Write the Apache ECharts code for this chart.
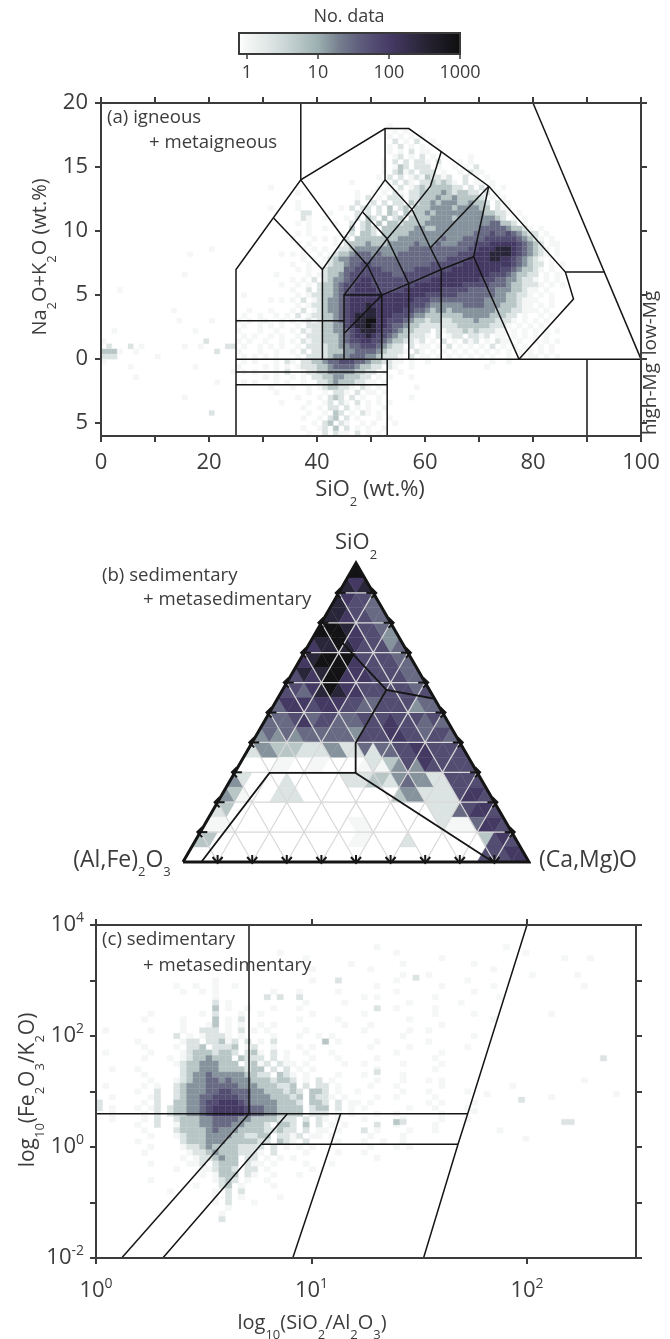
<!DOCTYPE html>
<html><head><meta charset="utf-8">
<style>html,body{margin:0;padding:0;background:#fff}#c{width:670px;height:1339px}</style>
<script src="https://cdn.jsdelivr.net/npm/echarts@6/dist/echarts.min.js"></script>
</head><body><div id="c"></div>
<script>
// ---------- colour scale ----------
const binCounts = [0,1,2.2,5.5,15,30,60,110,280,800];
const scaleLog = [0,0.3,0.6,1,1.3,1.6,2,2.5,3];
const scaleColors = ['#f5f7f6','#e0e7e6','#c6d2d2','#9db0b1','#767f8f','#5e5c7c','#463b66','#272334','#0e0e0e'];
const colorbarTicks = [0,1,2,3];
const colorbarLabels = {0:'1',1:'10',2:'100',3:'1000'};

// ---------- panel (a): 1 wt.% columns, 5 columns per group, starting SiO2 = 25 ----------
const igneousFirstSiO2 = 25;
const igneousTotalAlkali = [18.2,17.8,17.4,17.0,16.6,16.2,15.8,15.4,15.0,14.6,14.2,13.8,13.4,13.0,12.6,12.2,11.8,11.4,11.0,10.6,10.2,9.8,9.4,9.0,8.6,8.2,7.8,7.4,7.0,6.6,6.2,5.8,5.4,5.0,4.6,4.2,3.8,3.4,3.0,2.6,2.2,1.8,1.4,1.0,0.6,0.2,-0.2,-0.6,-1.0,-1.4,-1.8,-2.2,-2.6,-3.0,-3.4,-3.8,-4.2,-4.6,-5.0,-5.4,-5.8];
const igneousRows = [
"..... ..... ..... ..... ..... ...1.",
"..... ..... ..... ..... ..... ....1 .1...",
"..... ..... ..... ..... ..... ...1. 1.1.1",
"..... ..... ..... ..... ..... ....2 .1.2. .1",
"..... ..... ..... ..... ..... ...1. 2.1.1 ..1..",
"..... ..... ..... ..... ..... ...1. 1.2.1 1....",
"..... ..... ..... ..... ..... ....1 2.1.2 .1... ...1",
"..... ..... ..... ..... ..... ..1.2 .2.22 1.2.. .1.1.",
"..... ..... ..... ..... ..... ..1.1 32.22 2.1.. 1.1.2",
"..... ..... ..... ..... ..... ..1.2 312.2 22.1. .1.21 1",
"..... ..... ..... ..... ..... .1.2. 2.121 32212 ..2.1 .1",
"..... ..... ..... ..... .1... ..1.2 .21.2 23232 1.2.1 1.1",
"..... .1... ..... ..... ..... .1.1. 2.123 23333 22.2. 2.1.1",
"..... ..... .1... ..... ..1.. 1.1.2 1.223 33343 23322 .2.1.",
"..... ..... ..... ..... ..1.2 .1.22 2.223 33433 43333 2.1.1",
"..... ..... .1... ..... ..2.1 2.2.2 2.323 34344 43343 32.21 1",
"..... .1... .1... ....1 .2.22 .2.3. 23.33 34444 34444 33.21 1",
"..... ..... ..22. ..1.. ..2.2 .2.32 .3233 43444 44444 43322 1.1",
"..... ..... ..21. .1... 1.2.3 2.3.2 3.333 34444 34444 44432 .1.1",
"..... ..... .1.1. ...1. .2.23 .3.33 23333 44444 44444 44553 32.1.",
"..... ..... ...1. .1... .3.23 2.333 33344 33444 44444 55555 43321 .1",
"..... ..... .1.1. ....1 .2.33 2.333 33444 44444 44445 55655 65432 2.1",
"..... ..... 1...1 .1.1. 2.333 33333 44444 44454 44555 56666 66543 21.1",
"..... ..... .1.1. ...1. 23334 33344 44454 44544 45556 66777 77654 32.11",
"..... ..... ..1.1 .1..2 23444 44444 44555 55555 55566 77788 87654 321.1",
"..... ...1. 1.1.. 1.123 34555 45444 55555 55555 56667 77888 87654 321.1",
"..... ..... ..1.1 .1234 45555 55555 55555 55556 66677 77887 76543 21.1.",
"..... ..... 1..1. 1.233 45566 55555 55555 56666 66777 77777 76543 22.1 .1",
"..... ..... .1.1. .2333 55666 66555 55566 66666 77777 77776 65433 21.1.",
"..... ..1.. ...1. 12334 56666 66665 56666 66677 77777 77666 54332 2.1.1",
"..... ..... 1.1.2 .2344 56677 66666 66666 67777 77777 66655 44322 1.1.1",
"..... ...1. .1.1. 23345 66777 66666 66677 77777 77666 66555 43322 21.1 .1",
"..... ..... 1..2. 23345 66777 76666 67777 77766 66655 55544 43321 1.1.",
".1... ..... .1.12 23345 67777 77777 77777 66666 65555 55544 33221 .1.1",
"..... .1.1. 1.2.1 23445 67777 77777 77766 65555 55555 54444 33211 1..1.",
"..... ..... .1.12 23445 67778 77777 77666 54444 44555 54443 33211 .1.1",
"..1.. .1... 1.2.1 23445 67778 87777 76655 43443 44444 44433 32211 1.1.",
".1..1 ..1.1 .2.12 23345 67888 87776 66544 33333 33444 44333 22.1. .1.1",
"1.1.1 1..1. 1.121 23345 67889 97766 65433 23322 33334 33322 21.1. 1.1.",
".1..1 .1.1. .1.22 23344 67889 87765 54332 22222 23333 33222 1.1.1 .1.",
"1...1 ..1.. 1.212 23344 56788 87665 43322 2.212 22323 22211 .1.1. 1.1.1",
".1.1. .1.1. .1.22 23334 56778 76654 33222 1.2.1 22.22 12.11 .1.1. 1.1",
"1.1.. 1..1. 1.212 23334 56677 66543 32212 .1.2. 1.212 .1.21 1.1.. 1.1.1",
".1..1 .1.1. .1.22 22334 45566 65432 2.2.1 1.1.2 .1.1. 1.2.1 .1.1. .1.1",
"1...1 ..1.. 1.2.2 22333 44555 54322 21.21 .1.1. 1.1.1 .1.1. 1.1.1 .1.1",
".1.1. 1.1.. .1.22 22344 45554 43222 1.2.1 1.1.1 .1.1. 1.1.. 1.1.1 1.1.1",
".1.1. ..1.2 1.223 34556 66554 33221 1.1.. 1.... ..... ..1.. 1....",
"1.... 1.1.1 .1222 33455 55433 22.21 ..1.. ..... ..... .1",
".1.1. ..1.2 ..122 33444 44332 2.1.. 1.... ..... .....",
"..... 1.1.. 1.1.2 23344 33322 .1.1. ..1.. ...",
".1.1. ..1.1 ..1.. 22343 33221 1.1.. .....",
"..... .1... 1..1. 12332 21.21 .1... ...1.",
"..... ..1.. ...1. .1.22 1.2.1 1.1.. .....",
"..... ..... .1... 1.232 .2.1. .1... ..1..",
"..... ...1. ...1. .12.2 1.2.1 .1.1.",
"..... ..... ..1.. 1.22. 2.1.1 ..1.. ...",
"..... ..... ...1. .1.32 .1.21 .1...",
"..... ..... ..1.. 1.23. 2.1.. .1.1.",
"..... ..... ....1 .23.2 1..1. 1...1",
"..... ..... ..1.. 12.3. 2.1.1 ..1..",
"..... ..... ...1. .2.21 1.2.1 .1.."
];
const igneousLowSiO2Cells = [[0,0.6,3],[1,0.6,3],[2,0.6,3],[1,1.0,2],[0,0.2,2],[2,0.2,2],[1,0.2,2],[3,0.6,1],[5,1.0,2],[6,0.6,1],[7,1.0,1],[0,-0.2,1],[5,-0.6,1],[0,1.4,1],[6,-1.4,1],[3,5.4,1],[2,2.2,1],[10,0.2,1],[14,3.0,1],[19,1.4,2],[21,0.6,2],[18,1.0,1],[23,1.0,2],[24,1.0,2],[17,2.2,1],[20,3.0,1],[15,1.0,1],[13,3.8,1],[15,6.6,1],[20,8.6,1],[16,8.2,1],[24,-1.0,1],[21,-1.8,1],[20,-4.2,2],[15,-3.0,1],[17,-0.6,1]];

const tasOutline = [[25,-6],[25,7],[37,14],[52.6,18],[57,18],[63,16.2],[71.8,13.5],[86,6.8],[87.5,4.7],[77.4,0]];
const tasLines = [
 [[25,3],[45,3]],
 [[41,0],[41,7],[45,9.4],[48.4,11.5],[52.6,14],[52.6,18]],
 [[32,11],[41,7]],
 [[37,14],[45,9.4],[49.4,7.3],[52,5],[52,0]],
 [[45,0],[45,5],[52,5]],
 [[45,2],[52,5]],
 [[45,5],[53,9.4],[57.6,11.7],[61,13.5],[63,16.2]],
 [[48.4,11.5],[53,9.4],[57,5.9],[57,0]],
 [[52.6,14],[57.6,11.7],[61,8.7],[63,7],[63,0]],
 [[61,8.7],[71.8,13.5]],
 [[52,5],[57,5.9],[63,7],[69,8],[77.4,0]],
 [[69,8],[71.8,13.5]],
 [[86,6.8],[93.2,6.8]],
 [[80,20],[100,0]],
 [[25,0],[100,0]],
 [[25,-1],[53,-1]],
 [[25,-2],[53,-2]],
 [[53,0],[53,-6]],
 [[90,0],[90,-6]],
 [[37,14],[37,20]]
];
const igneousXTicks = [0,10,20,30,40,50,60,70,80,90,100];
const igneousXLabels = [0,20,40,60,80,100];
const igneousYTicks = [-5,0,5,10,15,20];

// ---------- panel (b): ternary triangles, row 0 at the SiO2 apex ----------
const ternaryRows = [
"9","878","87665","8876655","999876654","78898766645","7899997666655",
"687899777666655","66578987766666656","5777677766556666455","555675665556667666565",
"45454555555466677665665",
"2443332224422525566776666",
"....11..11....1213464766666",
"42....2......2223324544226666",
"431...222...........34422226776",
"23.......................22256776",
"111..............11........21115776",
"33................11....2........3676",
"..................................66677"
];
const ternaryGridValues = [10,20,30,40,50,60,70,80,90];
const ternaryOutline = [[0,0],[50,100],[100,0],[0,0]];
const ternaryFields = [
 [[40.25,80.5],[58.8,57.6],[49.9,39.8],[49.9,29.8],[25,29.8],[5.3,0]],
 [[58.8,57.6],[72.7,54.6]],
 [[49.9,29.8],[89.6,0]]
];

// ---------- panel (c): log10 columns of 0.03, 5 columns per group, starting at 0 ----------
const sedColumnWidth = 0.03;
const sedRowHeight = 0.1;
const sedYCentres = [3.6,3.5,3.4,3.3,3.2,3.1,3.0,2.9,2.8,2.7,2.6,2.5,2.4,2.3,2.2,2.1,2.0,1.9,1.8,1.7,1.6,1.5,1.4,1.3,1.2,1.1,1.0,0.9,0.8,0.7,0.6,0.5,0.4,0.3,0.2,0.1,0.0,-0.1,-0.2,-0.3,-0.4,-0.5,-0.6,-0.7,-0.8,-0.9,-1.0,-1.1,-1.2,-1.3];
const sedRows = [
"..... ..... ..... ..... ..... ..... ..... ..... ...1. ..... ..... ..... ...1.",
"..... ..... ..... ..... ..... ...1. ..... ..... ..... .1... ..... ..... ..... .1...",
"..... ..... ..... ..... ..... ..... ..1.. ..... ..... ..... ...1. ..... ..... ..... ..1..",
"..... ..... ..... ..... ...1. ..... ..... ....1 ..... ..1.. ..... ...1. ..... .....",
"..... ..... ..... ..... ..... ..... ...1. ..... ..1.. ..... ..... ..... .1...",
"..... ..... ..... ..... ..... ..... ..... ..... ..... ..1.. .1... ..... ..... ..1.. ....1",
"..... ..... ..... ...1. ..... ..... ...1. ..2.. ..... .1... ..... ..1..",
"..... ..... ..1.. 1..1. .1... ..... ..... ..... ...1. ..... ...1. ..... .1...",
"..... ..... ...1. .1.1. ..... ..1.. .1... ..1.. ..... .1... ..... ...1.",
"..... ..... ..... ...1. ..... .2.2. .2... ..... .1.1. ..... ..1.. ..... ..1..",
"..... ..... ..... ...2. 1.... ..... ..1.. ...1. ..... ...1. ..... .1...",
"..... ..... ..... ...3. 1..1. ..1.. .1... ..... ...2. .1... ..1.. .....",
"..... ...1. ..... .1.2. ..1.. 1.... ...1. ..... .1... ..... ..1.. ...1.",
"..... ..1.. ...1. ...3. 1.2.. ..... .1... ..1.. ..... ...1. ..... ..... .1...",
"..... ..... ...1. ..13. 1.1.. 1.1.. ..... ...1. ..1.. ..... ...1.",
".1... ...1. ...1. .222. 1.2.1 .1... ..1.. ..... .1... ...1. .1...",
"..... ..... ..2.1 .1222 1.1.. ..1.. .1..1 .1... ..... ..1.. ..... ...1.",
"..... .1... ...12 2.223 12.2. 1.2.. ..... 3.1.. ...1. ..... .1...",
"..... ..1.. ..1.2 23.22 23.12 ..1.. .1.1. ..... ..1.. ...1. ..... ..1..",
".1... ...1. ...12 33323 32.23 1.2.1 ..1.. .1... ..... .1... ...1.",
"..... ..1.. .1.12 33433 3.322 2.2.1 ...1. ..1.. ...1. ..... ..1..",
"..... ..... ..123 34443 33.23 12.21 1.1.. ...1. .1... ..1.. ...1.",
"..1.. .1... ...23 34443 33323 3.2.2 .1.1. ..... ...1. ..... ..1..",
"..... ..1.. ...23 44544 44433 22.32 1.1.. ..1.. .1... ..1.. .....",
"..... ...1. ..123 44554 54443 33233 2.1.2 .1... ...1. ..1.. .1.1.",
".1... ..1.1 ..234 44555 55444 33322 3.2.2 2.1.. ..1.. .1... ...1.",
"..... .1..2 ..234 44556 65554 43332 32.33 2.1.. 1.... ..1.. .1... ..1..",
"..1.. ...12 ..234 45566 66554 44333 23.32 21.1. ...1. .1... ..1..",
"2.... ..1.2 ..334 45667 77654 44433 32.33 2.2.1 1.1.. ..... .1.1. ...1.",
"2.1.. .1.12 .2334 45677 77765 54433 33.23 3.2.1 .1... ...1. ..1.. ..1..",
"..1.. ..1.2 .2334 45677 77765 54433 33.22 2.1.1 ...1. .1... ...1.",
"..1.. ..1.2 ..233 34455 55443 33322 2.2.2 1.1.. .1... ..1.. ...1. ..1..",
"..... .1..2 ..133 34455 54433 32.33 2.3.2 .1.1. ...2. .1... ..1..",
"..... ..1.. ..233 33454 44333 32232 2.2.1 1.1.. .2.1. ...1. ..1..",
"..... ...1. ..123 33444 43322 33.22 12.11 .1... ..1.. ..1.. .....",
"..... .1... ...23 33444 33333 22.32 1.2.. ..1.. .1..1 ..1..",
"..... ...1. ...12 23433 33222 2.2.1 .1.1. ..... ..1.. .1.1.",
"..... ..1.. ....1 22343 33222 1.2.. ..1.. ..1.. .1...",
"..... ..... ...1. 12234 33.22 .1.1. 1.... ..... ...1.",
"..... ...1. ....1 12.23 33.21 1.1.. ..1.. .1...",
"..... ..... ..1.. .1123 32.22 .1... ...1. .....",
"..... ..... ..... .1.13 33.21 ..1.. .1...",
"..... ...1. ..... ...12 32.1. .1... .....",
"..... ..... ..... 1...2 3.1.. ..1..",
"..... ..... .1... ...1. 2.2.. .....",
"..... ..... ..... ...1. 2.1.. ...1.",
"..... ..... ..... ...1. 2...1",
"..... ..... ..... ..... 1....",
"..... ..... ..... ....1",
"..... ..... ..... ....2"
];
const sedSparseCells = [[2.16,0.45,2],[2.19,0.45,2],[2.34,1.6,2],[1.96,0.85,2],[1.38,0.45,3],[1.41,0.45,2],[1.29,1.35,2],[1.47,3.05,2],[1.8,0.95,1],[1.92,1.1,1],[2.1,0.9,1],[2.25,1.2,1],[1.74,0.65,1],[2.4,0.95,1],[2.28,3.4,1],[2.1,2.4,1],[2.25,2.9,1],[1.86,0.3,1],[1.98,0.15,1]];
const sedLines = [
 [[0.71,4],[0.71,0.6]],
 [[0,0.6],[1.725,0.6]],
 [[0.767,0.05],[1.68,0.05]],
 [[0.71,0.6],[0.119,-2]],
 [[0.888,0.6],[0.767,0.05],[0.31,-2]],
 [[1.135,0.6],[1.09,0.05],[0.913,-2]],
 [[2,4],[1.725,0.6],[1.68,0.05],[1.52,-2]]
];
const sedXTicks = [0,1,2];
const sedYTicks = [-2,-1,0,1,2,3,4];
const sedYLabelled = [-2,0,2,4];

// ---------- helpers ----------
const lv = binCounts;
function hex2(c){return [parseInt(c.slice(1,3),16),parseInt(c.slice(3,5),16),parseInt(c.slice(5,7),16)];}
function colorOfCount(n){
  const l=Math.log10(n);
  if(l<=scaleLog[0])return scaleColors[0];
  for(let i=1;i<scaleLog.length;i++){
    if(l<=scaleLog[i]){
      const t=(l-scaleLog[i-1])/(scaleLog[i]-scaleLog[i-1]),a=hex2(scaleColors[i-1]),b=hex2(scaleColors[i]);
      return 'rgb('+a.map((v,k)=>Math.round(v+(b[k]-v)*t)).join(',')+')';
    }
  }
  return scaleColors[scaleColors.length-1];
}
const cbMin=-0.11,cbMax=3;
function cellsFromRows(rows,ys,x0,dx){
  const out=[];
  rows.forEach((r,ri)=>{
    r.replace(/ /g,'').split('').forEach((ch,ci)=>{
      if(ch!=='.'&&ch!=='0')out.push([x0+ci*dx,ys[ri],+ch]);
    });
  });
  return out;
}
function heatSeries(data,xi,yi,dx,dy){
  return {type:'custom',xAxisIndex:xi,yAxisIndex:yi,z:1,silent:true,animation:false,data,
    encode:{x:0,y:1},clip:true,
    renderItem(p,api){
      const x=api.value(0),y=api.value(1),a=api.coord([x,y+dy/2]),b=api.coord([x+dx,y-dy/2]);
      const f=colorOfCount(lv[api.value(2)]);
      return {type:'rect',shape:{x:a[0],y:a[1],width:b[0]-a[0],height:b[1]-a[1]},style:{fill:f,stroke:f,lineWidth:0.3}};
    }};
}
function lineSeries(pts,xi,yi,w,col){
  return {type:'line',xAxisIndex:xi,yAxisIndex:yi,data:pts,showSymbol:false,silent:true,animation:false,z:4,
    lineStyle:{color:col||'#151515',width:w||1.5,join:'miter'},clip:false};
}

// ternary triangles
const triData=[];
ternaryRows.forEach((s,r)=>{s.split('').forEach((ch,i)=>{if(ch!=='.')triData.push([r,i,+ch]);});});
const ternaryTriangles={type:'custom',xAxisIndex:2,yAxisIndex:2,z:1,silent:true,animation:false,data:triData,encode:{x:1,y:0},
  renderItem(p,api){
    const r=api.value(0),i=api.value(1),k=Math.floor(i/2),top=100-5*r,bot=95-5*r;
    let v;
    if(i%2===0){const xl=50-2.5*(r+1)+5*k;v=[[xl,bot],[xl+5,bot],[xl+2.5,top]];}
    else{const xl=50-2.5*r+5*k;v=[[xl,top],[xl+5,top],[xl+2.5,bot]];}
    const f=colorOfCount(lv[api.value(2)]);
    return {type:'polygon',shape:{points:v.map(q=>api.coord(q))},style:{fill:f,stroke:f,lineWidth:0.4}};
  }};
const ternaryGrid=[];
ternaryGridValues.forEach(t=>{
  ternaryGrid.push([[t/2,t],[100-t/2,t]]);
  ternaryGrid.push([[t,0],[50+t/2,100-t]]);
  ternaryGrid.push([[t,0],[t/2,t]]);
});
const ternaryTicks=[];
ternaryGridValues.forEach(t=>{
  ternaryTicks.push([t/2,t,0]);
  ternaryTicks.push([100-t/2,t,1]);
  ternaryTicks.push([t,0,2]);
});
const ternaryTickSeries={type:'custom',xAxisIndex:2,yAxisIndex:2,z:6,silent:true,animation:false,data:ternaryTicks,encode:{x:0,y:1},
  renderItem(p,api){
    const c=api.coord([api.value(0),api.value(1)]),k=api.value(2),s={stroke:'#151515',lineWidth:2,fill:null};
    let st,h;
    if(k===0){st=[[c[0]-3,c[1]],[c[0]+7,c[1]]];h=[[c[0]+2,c[1]-5],[c[0]-3,c[1]],[c[0]+2,c[1]+5]];}
    else if(k===1){st=[[c[0]+3,c[1]],[c[0]-7,c[1]]];h=[[c[0]-2,c[1]-5],[c[0]+3,c[1]],[c[0]-2,c[1]+5]];}
    else{st=[[c[0],c[1]+1],[c[0],c[1]-7]];h=[[c[0]-5,c[1]-5],[c[0],c[1]+1],[c[0]+5,c[1]-5]];}
    return {type:'group',children:[{type:'polyline',shape:{points:st},style:s},{type:'polyline',shape:{points:h},style:s}]};
  }};

// colour bar
const cbStops=scaleLog.map((l,i)=>({offset:(l-cbMin)/(cbMax-cbMin),color:scaleColors[i]}));
cbStops.unshift({offset:0,color:'#ffffff'});
const colorbarSeries={type:'custom',xAxisIndex:5,yAxisIndex:5,z:2,silent:true,animation:false,data:[[cbMin,0,cbMax,1]],encode:{x:[0,2],y:[1,3]},
  renderItem(p,api){
    const a=api.coord([api.value(0),api.value(3)]),b=api.coord([api.value(2),api.value(1)]);
    return {type:'rect',shape:{x:a[0],y:a[1],width:b[0]-a[0],height:b[1]-a[1]},
      style:{fill:new echarts.graphic.LinearGradient(0,0,1,0,cbStops),stroke:'#3a3a3a',lineWidth:2}};
  }};

const INK='#3c3c3c',FONT='"Open Sans",sans-serif',TICK=22;
const axBase={axisLine:{show:true,onZero:false,lineStyle:{color:INK,width:2}},axisTick:{show:true,length:6,lineStyle:{color:INK,width:2}},splitLine:{show:false},z:5};
function axisX(grid,min,max,pos,ticks,labels,extra){
  return Object.assign({},axBase,{type:'value',gridIndex:grid,position:pos,min,max,
    axisTick:Object.assign({},axBase.axisTick,{customValues:ticks}),
    axisLabel:labels?Object.assign({show:true,customValues:labels,color:INK,fontFamily:FONT,fontSize:TICK,margin:16,hideOverlap:false},extra||{}):{show:false}});
}
function axisY(grid,min,max,pos,ticks,labels,extra){
  return Object.assign({},axBase,{type:'value',gridIndex:grid,position:pos,min,max,
    axisTick:Object.assign({},axBase.axisTick,{customValues:ticks}),
    axisLabel:labels?Object.assign({show:true,customValues:labels,color:INK,fontFamily:FONT,fontSize:TICK,margin:13,hideOverlap:false},extra||{}):{show:false}});
}
const powRich={b:{fontFamily:FONT,fontSize:TICK,color:INK,lineHeight:26},s:{fontFamily:FONT,fontSize:14,color:INK,verticalAlign:'top',lineHeight:28}};
const powFmt=v=>'{b|10}{s|'+v+'}';
const hidden=(g,min,max)=>({type:'value',gridIndex:g,min,max,show:false,splitLine:{show:false}});

function T(x,y,text,o){
  o=o||{};
  const size=o.size||22;
  return {type:'text',x,y,z:20,rotation:o.rot||0,silent:true,style:{
    text,fill:INK,font:size+'px '+FONT,fontFamily:FONT,fontSize:size,
    align:o.align||'center',verticalAlign:'middle',textAlign:o.align||'center',textVerticalAlign:'middle',
    rich:{m:{fontFamily:FONT,fontSize:size,fill:INK,color:INK,lineHeight:26},
      d:{fontFamily:FONT,fontSize:13,fill:INK,color:INK,verticalAlign:'bottom',lineHeight:37}}
  }};
}

const series=[
  heatSeries(cellsFromRows(igneousRows,igneousTotalAlkali,igneousFirstSiO2,1),0,0,1,0.4),
  heatSeries(igneousLowSiO2Cells,0,0,1,0.4),
  lineSeries(tasOutline,0,0),
  ...tasLines.map(l=>lineSeries(l,0,0)),
  ternaryTriangles,
  ...ternaryGrid.map(l=>Object.assign(lineSeries(l,2,2,1.2,'#d8d8d8'),{z:2})),
  ...ternaryFields.map(l=>lineSeries(l,2,2,1.8)),
  lineSeries(ternaryOutline,2,2,3,'#151515'),
  ternaryTickSeries,
  heatSeries(cellsFromRows(sedRows,sedYCentres,0,sedColumnWidth),3,3,sedColumnWidth,sedRowHeight),
  heatSeries(sedSparseCells,3,3,sedColumnWidth,sedRowHeight),
  ...sedLines.map(l=>lineSeries(l,3,3)),
  colorbarSeries
];

const chart=echarts.init(document.getElementById('c'),null,{renderer:'canvas'});
chart.setOption({
  animation:false,backgroundColor:'#fff',
  grid:[
    {left:101,top:103,width:540,height:333},
    {left:183,top:563,width:346,height:299},
    {left:96,top:925,width:540,height:333},
    {left:239,top:33,width:221,height:21}
  ].map(g=>Object.assign(g,{containLabel:false})),
  xAxis:[
    axisX(0,0,100,'bottom',igneousXTicks,igneousXLabels),
    axisX(0,0,100,'top',igneousXTicks,null),
    hidden(1,0,100),
    axisX(2,0,2.506,'bottom',sedXTicks,sedXTicks,{formatter:powFmt,rich:powRich,margin:19}),
    axisX(2,0,2.506,'top',sedXTicks,null),
    Object.assign(axisX(3,cbMin,cbMax,'bottom',colorbarTicks,colorbarTicks,{fontSize:18,margin:10,formatter:v=>colorbarLabels[v]}),{axisLine:{show:false},axisTick:{show:true,length:5,customValues:colorbarTicks,lineStyle:{color:INK,width:1.5}}})
  ],
  yAxis:[
    axisY(0,-6,20,'left',igneousYTicks,igneousYTicks,{formatter:v=>String(Math.abs(v))}),
    axisY(0,-6,20,'right',igneousYTicks,null),
    hidden(1,0,100),
    axisY(2,-2,4,'left',sedYTicks,sedYLabelled,{formatter:powFmt,rich:powRich,margin:12}),
    axisY(2,-2,4,'right',sedYTicks,null),
    hidden(3,0,1)
  ],
  series,
  graphic:{elements:[
    T(349,17,'No. data',{size:18}),
    T(107,118,'(a) igneous',{size:18.6,align:'left'}),
    T(149,143,'+ metaigneous',{size:18.6,align:'left'}),
    T(370,490,'{m|SiO}{d|2}{m| (wt.%)}',{size:22}),
    T(40,257,'{m|Na}{d|2}{m|O+K}{d|2}{m|O (wt.%)}',{size:20,rot:Math.PI/2}),
    T(651,323,'low-Mg',{size:19,rot:Math.PI/2}),
    T(651,399,'high-Mg',{size:19,rot:Math.PI/2}),
    T(356,543,'{m|SiO}{d|2}',{size:22}),
    T(102,576,'(b) sedimentary',{size:18.6,align:'left'}),
    T(143,600,'+ metasedimentary',{size:18.6,align:'left'}),
    T(122,860,'{m|(Al,Fe)}{d|2}{m|O}{d|3}',{size:23}),
    T(588,860,'(Ca,Mg)O',{size:23}),
    T(102,940,'(c) sedimentary',{size:18.6,align:'left'}),
    T(143,966,'+ metasedimentary',{size:18.6,align:'left'}),
    T(28,1090,'{m|log}{d|10}{m|(Fe}{d|2}{m|O}{d|3}{m|/K}{d|2}{m|O)}',{size:21,rot:Math.PI/2}),
    T(312,1323,'{m|log}{d|10}{m|(SiO}{d|2}{m|/Al}{d|2}{m|O}{d|3}{m|)}',{size:20})
  ]}
});
</script></body></html>
